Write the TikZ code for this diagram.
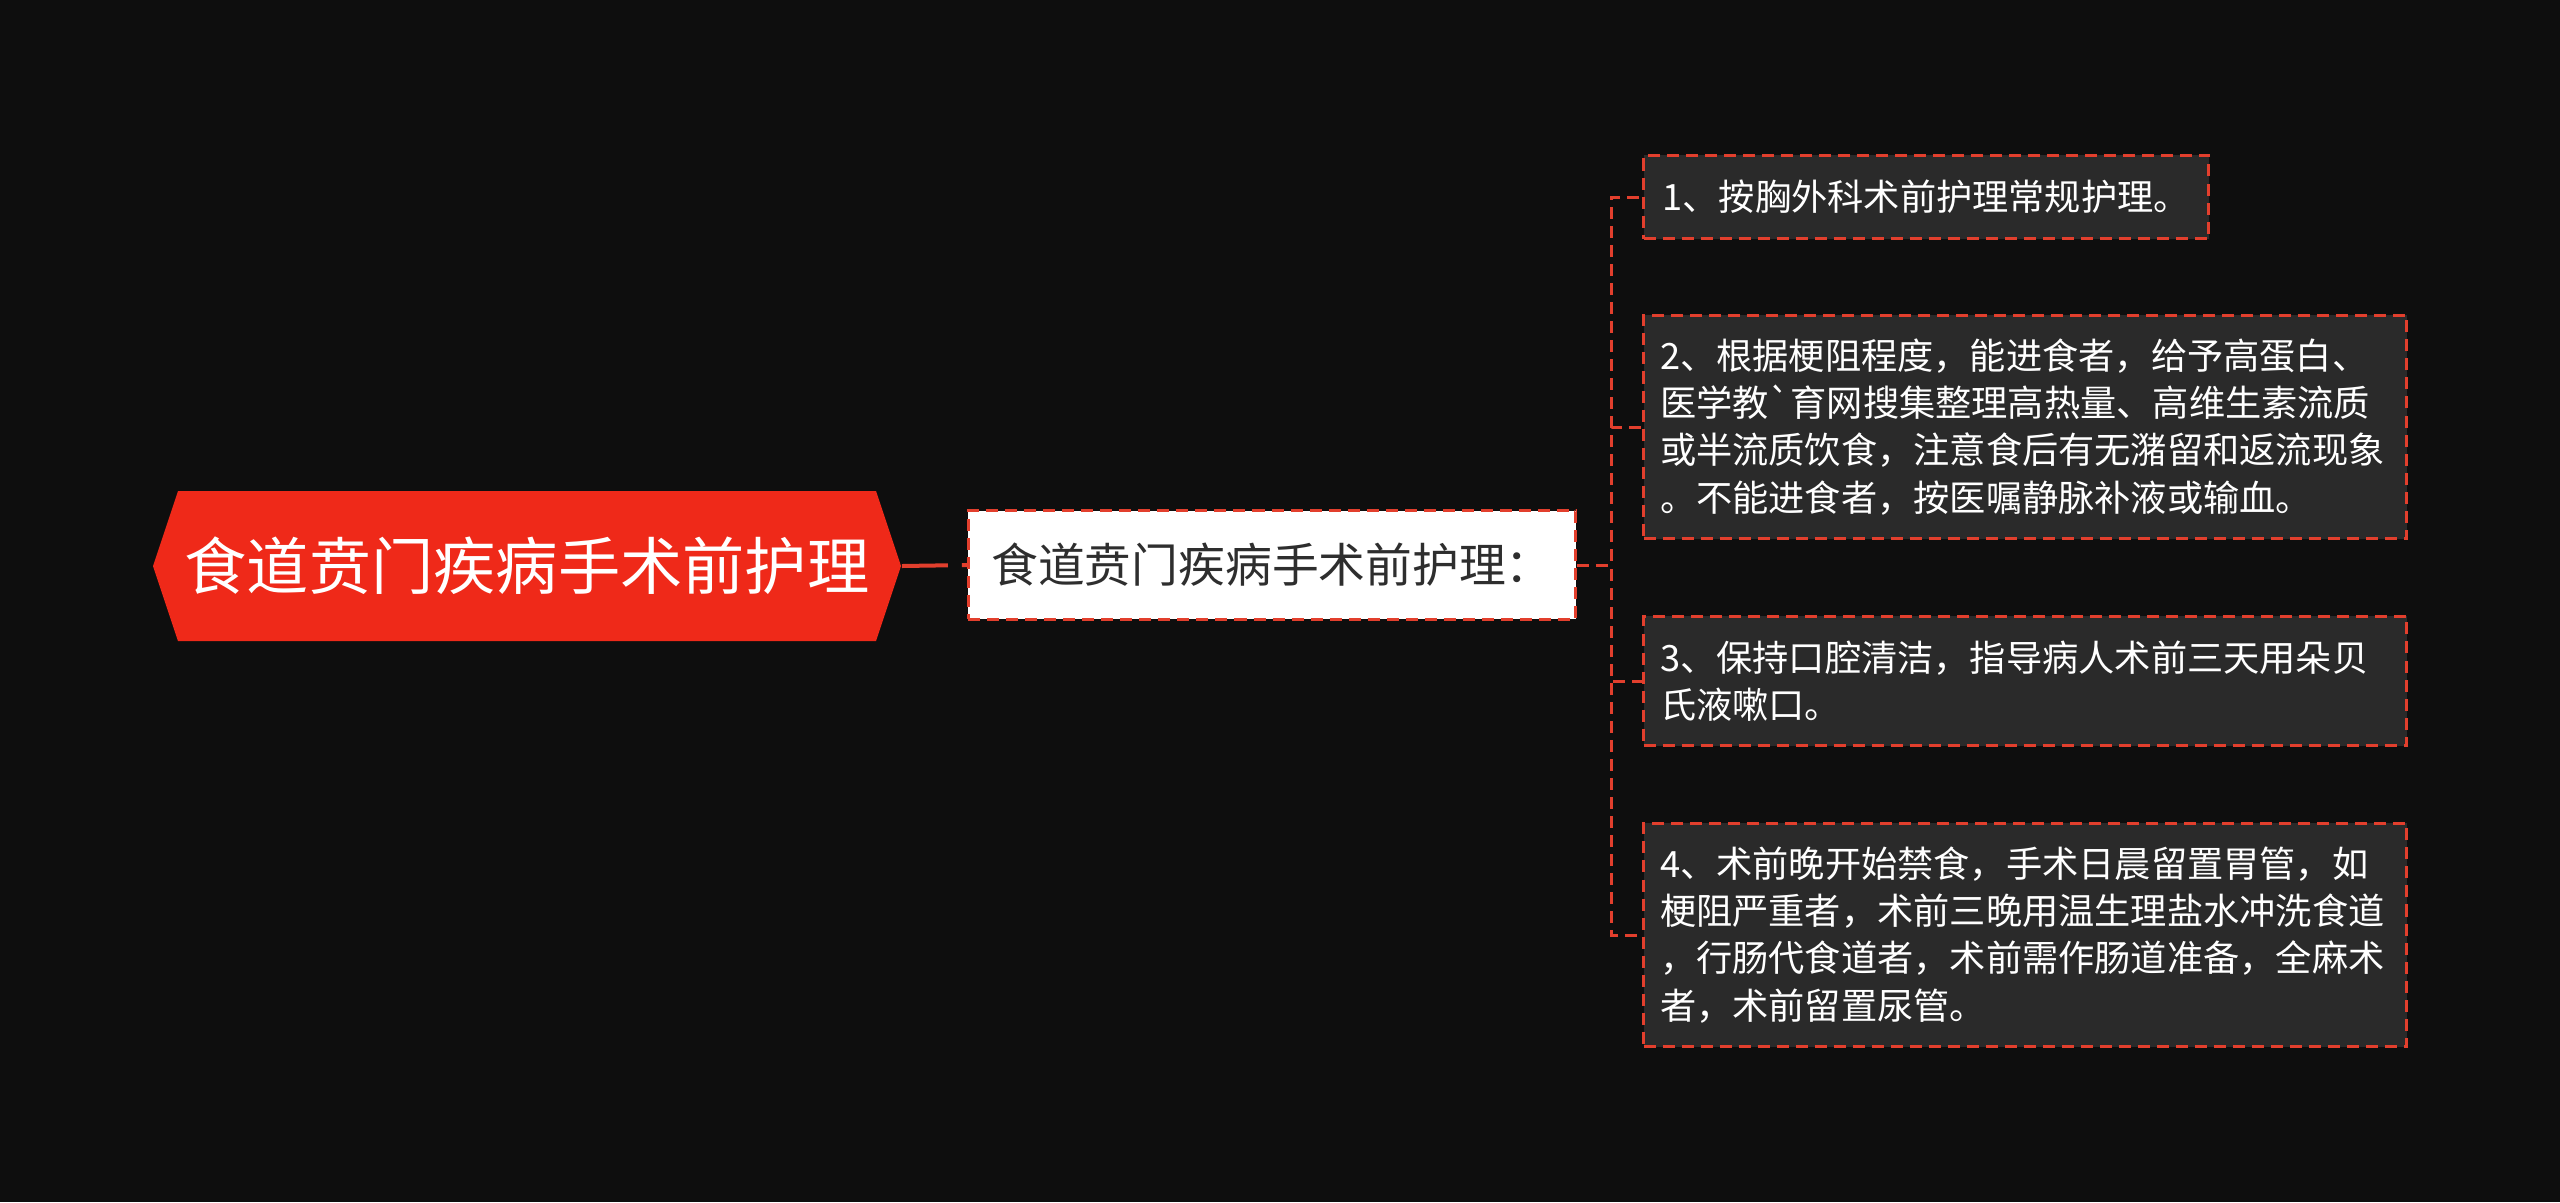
\documentclass[tikz,border=0pt]{standalone}
\usepackage{fontspec}
\newfontfamily\cjk{Noto Sans CJK SC}
\usetikzlibrary{positioning}

\definecolor{bgblack}{HTML}{0E0E0E}
\definecolor{rootred}{HTML}{EF2919}
\definecolor{linered}{HTML}{E23F2D}
\definecolor{leafgrey}{HTML}{2A2A2A}
\definecolor{subtext}{HTML}{2E2E2E}

\tikzset{
  rootbox/.style = {inner sep=0pt, minimum width=7.48cm, minimum height=1.5cm, text=white,
    font=\cjk\fontsize{17.7pt}{21pt}\selectfont},
  subbox/.style = {rectangle, fill=white, draw=linered, line width=0.03cm,
    dash pattern=on 0.12cm off 0.07cm, minimum width=6.07cm, minimum height=1.08cm,
    inner sep=0pt, text=subtext, font=\cjk\fontsize{13.3pt}{16pt}\selectfont},
  leafbox/.style = {rectangle, fill=leafgrey, draw=linered, line width=0.03cm,
    dash pattern=on 0.12cm off 0.07cm, anchor=west, align=left, inner xsep=0.165cm,
    inner ysep=0pt, text=white, font=\cjk\fontsize{10.3pt}{13.4pt}\selectfont},
  link/.style = {draw=linered, line width=0.03cm, dash pattern=on 0.12cm off 0.07cm}
}

\begin{document}
\begin{tikzpicture}[x=0.01cm, y=-0.01cm]
\fill[bgblack] (0,0) rectangle (2560,1202);

\fill[rootred] (153,566) -- (178,491) -- (876,491) -- (901,566) -- (876,641) -- (178,641) -- cycle;
\node[rootbox] (root) at (527,566) {食道贲门疾病手术前护理};

\node[subbox] (sub) at (1272,565) {食道贲门疾病手术前护理：};

\node[leafbox, minimum width=5.65cm, minimum height=0.83cm] (leaf1) at (1642,197) {1、按胸外科术前护理常规护理。};
\node[leafbox, text width=7.3cm, minimum height=2.23cm] (leaf2) at (1642,427) {2、根据梗阻程度，能进食者，给予高蛋白、\\医学教`育网搜集整理高热量、高维生素流质\\或半流质饮食，注意食后有无潴留和返流现象\\。不能进食者，按医嘱静脉补液或输血。};
\node[leafbox, text width=7.3cm, minimum height=1.29cm] (leaf3) at (1642,681) {3、保持口腔清洁，指导病人术前三天用朵贝\\氏液嗽口。};
\node[leafbox, text width=7.3cm, minimum height=2.23cm] (leaf4) at (1642,935) {4、术前晚开始禁食，手术日晨留置胃管，如\\梗阻严重者，术前三晚用温生理盐水冲洗食道\\，行肠代食道者，术前需作肠道准备，全麻术\\者，术前留置尿管。};

\draw[draw=linered, line width=0.04cm, dash pattern=on 0.46cm off 0.14cm] (root.east) -- (sub.west);

\foreach \leaf in {leaf1,leaf2,leaf3,leaf4}
  \draw[link] (sub.east) -- ++(34,0) |- (\leaf.west);

\end{tikzpicture}
\end{document}
